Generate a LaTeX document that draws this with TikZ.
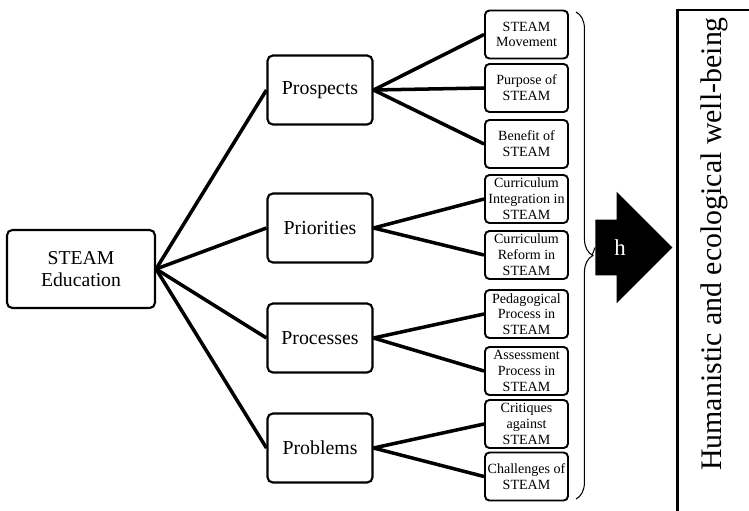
\documentclass[tikz,border=0pt]{standalone}
\usepackage{fontspec}
\setmainfont{Liberation Serif}
\usetikzlibrary{shapes.arrows,decorations.pathreplacing}

\begin{document}
\begin{tikzpicture}[x=0.02cm,y=-0.02cm,
  rootbox/.style={draw,line width=1.2pt,rounded corners=3pt,minimum width=2.96cm,minimum height=1.56cm,align=center,inner sep=1pt,font=\fontsize{11.2}{13}\selectfont},
  topicbox/.style={draw,line width=1.2pt,rounded corners=3pt,minimum width=2.1cm,minimum height=1.38cm,font=\fontsize{11.3}{14}\selectfont},
  leafbox/.style={draw,line width=1.1pt,rounded corners=2.5pt,minimum width=1.66cm,minimum height=0.96cm,align=center,inner xsep=0.5pt,inner ysep=0.5pt,font=\fontsize{8}{9}\selectfont},
  link/.style={line width=2pt}]
\clip (0,0) rectangle (749,510);
% root and the four topics
\node[rootbox] (edu) at (81,269) {STEAM\\Education};
\node[topicbox] (prospects) at (320,90) {Prospects};
\node[topicbox] (priorities) at (320,228) {Priorities};
\node[topicbox] (processes) at (320,338) {Processes};
\node[topicbox] (problems) at (320,448) {Problems};
% leaves
\node[leafbox] (movement) at (526.5,34.5) {STEAM\\Movement};
\node[leafbox] (purpose) at (526.5,88) {Purpose of\\STEAM};
\node[leafbox] (benefit) at (526.5,144) {Benefit of\\STEAM};
\node[leafbox] (integration) at (526.5,199) {Curriculum\\Integration in\\STEAM};
\node[leafbox] (reform) at (526.5,255) {Curriculum\\Reform in\\STEAM};
\node[leafbox] (pedagogy) at (526.5,314) {Pedagogical\\Process in\\STEAM};
\node[leafbox] (assessment) at (526.5,371) {Assessment\\Process in\\STEAM};
\node[leafbox] (critiques) at (526.5,424) {Critiques\\against\\STEAM};
\node[leafbox] (challenges) at (526.5,476.5) {Challenges of\\STEAM};
% links
\foreach \t in {prospects,priorities,processes,problems}
  \draw[link] (edu.east) -- (\t.west);
\foreach \l in {movement,purpose,benefit}
  \draw[link] (prospects.east) -- (\l.west);
\foreach \l in {integration,reform}
  \draw[link] (priorities.east) -- (\l.west);
\foreach \l in {pedagogy,assessment}
  \draw[link] (processes.east) -- (\l.west);
\foreach \l in {critiques,challenges}
  \draw[link] (problems.east) -- (\l.west);
% brace, arrow and outcome
\draw[line width=0.6pt,decorate,decoration={brace,amplitude=9.6pt}] (576,12) -- (576,499);
\coordinate (bracetip) at (592,255.5);
\node[single arrow,fill=black,text=white,anchor=west,minimum height=1.54cm,minimum width=2.22cm,
  single arrow head extend=0.56cm,single arrow head indent=0pt,text height=9pt,text depth=0pt,
  inner ysep=11.1pt,font=\fontsize{13}{13}\selectfont] (arrow) at (595,247.5) {h};
\draw[line width=0.6pt] (bracetip) -- (arrow.tail);
\draw[line width=1.7pt] (677,10) rectangle (840,560);
\node[rotate=90,font=\fontsize{17}{17}\selectfont] (goal) at (714,244) {Humanistic and ecological well-being};
\end{tikzpicture}
\end{document}
